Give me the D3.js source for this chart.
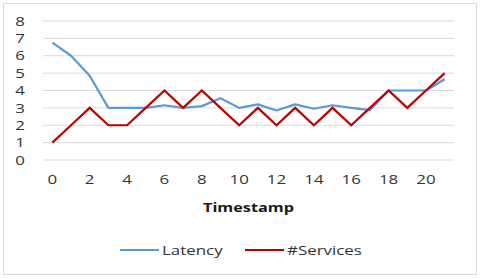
<!DOCTYPE html>
<html>
<head>
<meta charset="utf-8">
<script src="https://cdn.jsdelivr.net/npm/d3@7"></script>
<style>
body { margin: 0; background: #fff; }
text { font-family: "Open Sans", "Liberation Sans", sans-serif; fill: #333; }
</style>
</head>
<body>
<div class="container"></div>
<script>
const timestamps = d3.range(0, 22);
const latency = [6.75, 6.0, 4.85, 3.0, 3.0, 3.0, 3.15, 3.0, 3.1, 3.55, 3.0, 3.2, 2.85, 3.2, 2.95, 3.15, 3.0, 2.87, 4.0, 4.0, 4.0, 4.65];
const services = [1, 2, 3, 2, 2, 3, 4, 3, 4, 3, 2, 3, 2, 3, 2, 3, 2, 3, 4, 3, 4, 5];
const yTicks = [0, 1, 2, 3, 4, 5, 6, 7, 8];
const xTickLabels = [0, 2, 4, 6, 8, 10, 12, 14, 16, 18, 20];

const WIDTH = 480;
const HEIGHT = 279;
const LEFT = 43, RIGHT = 454, TOP = 21, BOTTOM = 160;
const STRETCH = 'scale(1.3, 1)';

var svg = d3.select('.container').append('svg')
	.attr('width', WIDTH)
	.attr('height', HEIGHT);

svg.append('rect')
	.attr('x', 3.5).attr('y', 3.5)
	.attr('width', 473).attr('height', 271)
	.attr('fill', '#fff')
	.attr('stroke', '#d9d9d9');

var xScale = d3.scaleBand()
	.domain(timestamps)
	.range([LEFT, RIGHT]);

var yScale = d3.scaleLinear()
	.domain([0, 8])
	.range([BOTTOM, TOP]);

// gridlines
svg.append('g').selectAll('line').data(yTicks)
	.enter().append('line')
	.attr('x1', LEFT).attr('x2', RIGHT)
	.attr('y1', function(d){ return yScale(d); })
	.attr('y2', function(d){ return yScale(d); })
	.attr('stroke', '#d9d9d9')
	.attr('stroke-width', 1);

var yAxis = d3.axisLeft(yScale).tickValues(yTicks).tickSize(0).tickPadding(0);
svg.append('g')
	.attr('transform', 'translate(25, 0)')
	.call(yAxis)
	.call(function(g){ g.select('.domain').remove(); })
	.selectAll('text')
	.attr('font-size', 13)
	.attr('font-family', '"Open Sans", sans-serif')
	.attr('fill', '#333')
	.attr('transform', STRETCH);

var xAxis = d3.axisBottom(xScale).tickValues(xTickLabels).tickSize(0).tickPadding(0);
svg.append('g')
	.attr('transform', 'translate(0, 175)')
	.call(xAxis)
	.call(function(g){ g.select('.domain').remove(); })
	.selectAll('text')
	.attr('font-size', 13)
	.attr('font-family', '"Open Sans", sans-serif')
	.attr('fill', '#333')
	.attr('transform', STRETCH);

svg.append('text')
	.attr('transform', 'translate(' + ((LEFT + RIGHT) / 2) + ', 212) ' + STRETCH)
	.attr('text-anchor', 'middle')
	.attr('font-size', 12.5)
	.attr('font-weight', 'bold')
	.style('fill', '#1a1a1a')
	.text('Timestamp');

var line = function(values){
	return d3.line()
		.x(function(d, i){ return xScale(timestamps[i]) + xScale.bandwidth() / 2; })
		.y(function(d){ return yScale(d); })(values);
};

svg.append('path')
	.attr('d', line(latency))
	.attr('fill', 'none')
	.attr('stroke', '#5B9BD5')
	.attr('stroke-width', 2.2)
	.attr('stroke-linejoin', 'round');

svg.append('path')
	.attr('d', line(services))
	.attr('fill', 'none')
	.attr('stroke', '#C00000')
	.attr('stroke-width', 2.2)
	.attr('stroke-linejoin', 'miter');

// legend
var legend = [
	{name: 'Latency', color: '#5B9BD5', x: 120},
	{name: '#Services', color: '#C00000', x: 245}
];
var lg = svg.append('g').selectAll('g').data(legend).enter().append('g')
	.attr('transform', function(d){ return 'translate(' + d.x + ', 250)'; });
lg.append('line')
	.attr('x1', 0).attr('x2', 39)
	.attr('stroke', function(d){ return d.color; })
	.attr('stroke-width', 2.2);
lg.append('text')
	.attr('transform', 'translate(42, 5) ' + STRETCH)
	.attr('font-size', 13)
	.text(function(d){ return d.name; });
</script>
</body>
</html>
